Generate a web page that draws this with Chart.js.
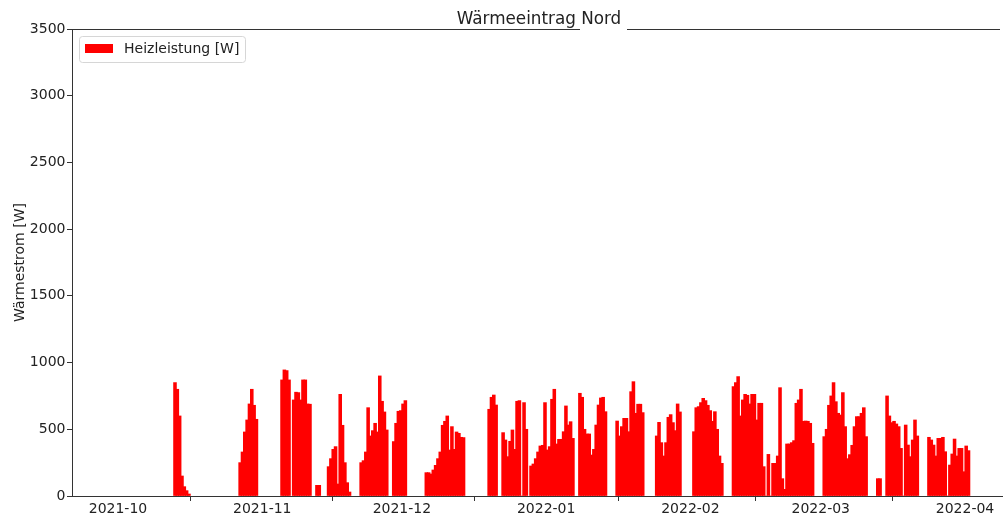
<!DOCTYPE html>
<html>
<head>
<meta charset="utf-8">
<script src="https://cdn.jsdelivr.net/npm/chart.js@4/dist/chart.umd.min.js"></script>
<style>
  html, body { margin: 0; padding: 0; background: #fff; }
  canvas { display: block; }
</style>
</head>
<body>
<canvas id="chart" width="1003" height="519"></canvas>
<script>
// x values are days since 2021-10-01, one bar per half day
const tickDays = [0, 31, 61, 92, 123, 151, 182];
const tickLabels = ['2021-10', '2021-11', '2021-12', '2022-01', '2022-02', '2022-03', '2022-04'];
const yTicks = [0, 500, 1000, 1500, 2000, 2500, 3000, 3500];

// first day of each heating period
const segmentStarts = [12, 26, 35, 37.5, 42.5, 45, 52, 59, 66, 79.5, 82.5, 88.5,
    99, 107, 115.5, 123.5, 132, 138.5, 143.5, 151.5, 163, 165, 174];

// Heizleistung [W], half-day values per period
const segmentValues = [
    [850, 800, 600, 150, 70, 40, 15],
    [250, 330, 480, 570, 690, 800, 680, 575],
    [870, 945, 940, 870],
    [720, 778, 775, 720, 870, 870, 690, 688],
    [80, 80],
    [220, 280, 350, 370, 90, 762, 530, 250, 100, 30],
    [250, 265, 330, 662, 450, 490, 545, 480, 900, 710, 630, 495],
    [408, 545, 635, 640, 690, 715],
    [175, 175, 165, 195, 230, 280, 330, 530, 560, 600, 345, 520, 350, 480, 470, 440, 438],
    [650, 740, 757, 682],
    [475, 420, 295, 410, 495, 350, 710, 715, 0, 700, 500],
    [225, 240, 280, 330, 375, 380, 700, 345, 370, 725, 800, 390, 425, 425, 482, 675, 532, 557, 432],
    [770, 740, 500, 465, 465, 307, 350, 532, 682, 735, 740, 632],
    [562, 450, 520, 582, 582, 482, 782, 857, 620, 688, 688, 625],
    [450, 552, 400, 300, 400, 590, 610, 550, 490, 690, 630],
    [482, 662, 670, 700, 732, 715, 680, 640, 560, 632, 500, 300, 245],
    [820, 850, 895, 600, 720, 762, 755, 690, 762, 762, 570, 695, 695],
    [220, 0, 312, 0, 245, 245, 300, 812, 130, 50],
    [390, 390, 400, 415, 695, 720, 800, 560, 562, 560, 545, 395],
    [445, 500, 680, 750, 850, 707, 620, 607, 775, 520, 280, 310, 380, 520, 595, 595, 620, 662, 445],
    [130, 130],
    [750, 600, 550, 560, 540, 520, 357, 0, 532, 382, 295, 420, 570, 450],
    [440, 420, 382, 300, 432, 432, 440, 332, 0, 232, 315, 427, 300, 357, 357, 182, 375, 340]
];

const points = [];
segmentStarts.forEach((start, i) => {
    segmentValues[i].forEach((v, j) => {
        points.push({ x: start + j * 0.5 + 0.25, y: v });
    });
});

const FONT = 'DejaVu Sans';
const TEXT = '#222';
const AXIS = '#333';

// title, y label, top spine and legend box drawn like matplotlib does
const decorations = {
    id: 'decorations',
    afterDraw(c) {
        const ctx = c.ctx;
        const area = c.chartArea;
        ctx.save();

        ctx.strokeStyle = AXIS;
        ctx.lineWidth = 1;
        ctx.beginPath();
        ctx.moveTo(area.left, area.top + 0.5);
        ctx.lineTo(1000, area.top + 0.5);
        ctx.stroke();

        ctx.fillStyle = '#fff';
        ctx.fillRect(580, area.top - 2, 47, 4);

        ctx.fillStyle = TEXT;
        ctx.font = '16.8px "' + FONT + '"';
        ctx.textAlign = 'center';
        ctx.textBaseline = 'alphabetic';
        ctx.fillText('Wärmeeintrag Nord', 539, 24);

        ctx.font = '14px "' + FONT + '"';
        ctx.translate(24, (area.top + area.bottom) / 2);
        ctx.rotate(-Math.PI / 2);
        ctx.fillText('Wärmestrom [W]', 0, 0);
        ctx.setTransform(1, 0, 0, 1, 0, 0);

        ctx.beginPath();
        ctx.roundRect(79.5, 36.5, 166, 26, 3);
        ctx.fillStyle = 'rgba(255,255,255,0.8)';
        ctx.fill();
        ctx.strokeStyle = '#d6d6d6';
        ctx.stroke();
        ctx.fillStyle = '#ff0000';
        ctx.fillRect(85, 44, 28, 9);
        ctx.fillStyle = TEXT;
        ctx.textAlign = 'left';
        ctx.textBaseline = 'middle';
        ctx.fillText('Heizleistung [W]', 124, 49);

        ctx.restore();
    }
};

new Chart(document.getElementById('chart'), {
    type: 'bar',
    data: {
        datasets: [{
            label: 'Heizleistung [W]',
            data: points,
            backgroundColor: '#ff0000',
            borderWidth: 0,
            barThickness: 2.9
        }]
    },
    options: {
        responsive: false,
        animation: false,
        devicePixelRatio: 1,
        layout: { padding: { top: 29, left: 0, right: 0, bottom: 0 } },
        plugins: {
            legend: { display: false },
            title: { display: false },
            tooltip: { enabled: false }
        },
        scales: {
            x: {
                type: 'linear',
                offset: false,
                min: -9.88,
                max: 190.16,
                afterFit: s => { s.height = 23; },
                afterBuildTicks: s => { s.ticks = tickDays.map(v => ({ value: v })); },
                grid: { drawOnChartArea: false, drawTicks: true, tickLength: 5, color: AXIS },
                border: { display: true, color: AXIS, width: 1 },
                ticks: {
                    autoSkip: false,
                    maxRotation: 0,
                    padding: 0,
                    color: TEXT,
                    font: { family: FONT, size: 14 },
                    callback: v => tickLabels[tickDays.indexOf(v)]
                }
            },
            y: {
                min: 0,
                max: 3500,
                afterFit: s => { s.width = 72; },
                afterBuildTicks: s => { s.ticks = yTicks.map(v => ({ value: v })); },
                grid: { drawOnChartArea: false, drawTicks: true, tickLength: 5, color: AXIS },
                border: { display: true, color: AXIS, width: 1 },
                ticks: {
                    padding: 1.5,
                    color: TEXT,
                    font: { family: FONT, size: 14 },
                    callback: v => String(v)
                }
            }
        }
    },
    plugins: [decorations]
});
</script>
</body>
</html>
